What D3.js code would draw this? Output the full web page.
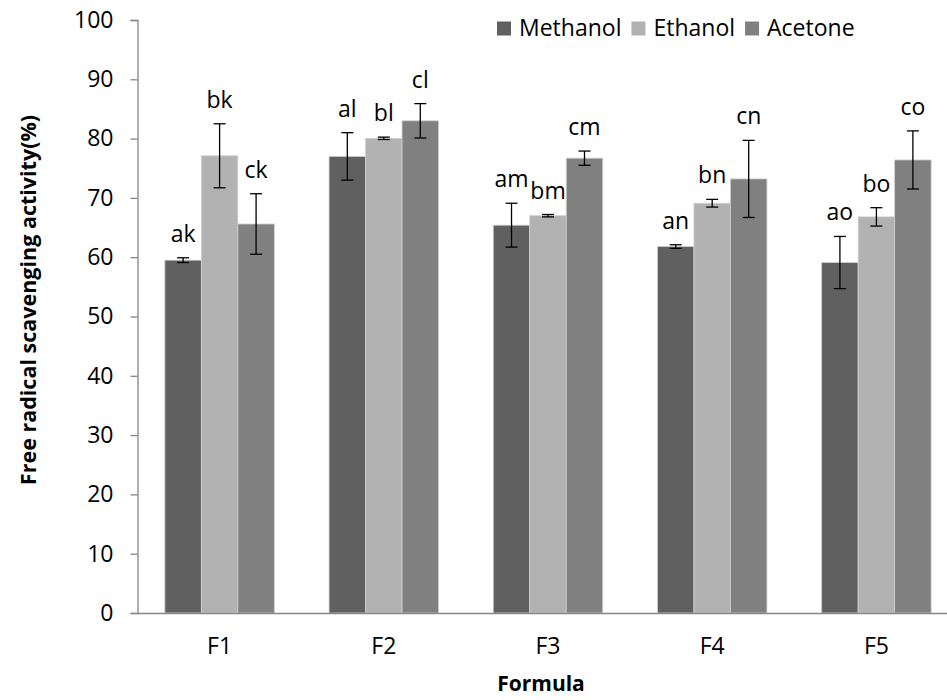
<!DOCTYPE html>
<html><head><meta charset="utf-8">
<script src="https://cdn.jsdelivr.net/npm/d3@7/dist/d3.min.js"></script>
<style>body{margin:0;background:#fff}svg{display:block}text{font-family:"Open Sans",sans-serif}</style>
</head><body>
<svg id="c" width="947" height="700"></svg>
<script>
const categories = ["F1","F2","F3","F4","F5"];
const seriesNames = ["Methanol","Ethanol","Acetone"];
const methanol = [59.5, 77.0, 65.4, 61.8, 59.1];
const ethanol  = [77.1, 80.05, 67.0, 69.1, 66.8];
const acetone  = [65.6, 83.0, 76.7, 73.2, 76.4];
const methanolErr = [0.4, 4.0, 3.7, 0.3, 4.4];
const ethanolErr  = [5.4, 0.2, 0.2, 0.65, 1.55];
const acetoneErr  = [5.1, 2.9, 1.2, 6.5, 4.9];
const methanolLbl = ["ak","al","am","an","ao"];
const ethanolLbl  = ["bk","bl","bm","bn","bo"];
const acetoneLbl  = ["ck","cl","cm","cn","co"];
const yTicks = [0,10,20,30,40,50,60,70,80,90,100];
const colors = ["#606060","#b2b2b2","#808080"];

(function(){
const series = [
  {name: seriesNames[0], values: methanol, err: methanolErr, lbl: methanolLbl},
  {name: seriesNames[1], values: ethanol,  err: ethanolErr,  lbl: ethanolLbl},
  {name: seriesNames[2], values: acetone,  err: acetoneErr,  lbl: acetoneLbl}
];

const svg = d3.select("#c");
const pl = 137.5, pr = 958.5, pt = 20, pb = 613;
const x0 = d3.scaleBand().domain(categories).range([pl, pr]).paddingInner(1.5/4.5).paddingOuter(0.75/4.5);
const x1 = d3.scaleBand().domain(seriesNames).range([0, x0.bandwidth()]);
const y = d3.scaleLinear().domain([0,100]).range([pb, pt]);

const ya = svg.append("g").attr("transform", `translate(${pl},0)`)
  .call(d3.axisLeft(y).tickValues(yTicks).tickSize(7).tickPadding(17));
ya.select(".domain").attr("stroke","#868686").attr("stroke-width",1.3);
ya.selectAll(".tick line").attr("stroke","#868686").attr("stroke-width",1.3);
ya.selectAll(".tick text").attr("font-size",23).attr("fill","#000").attr("font-family","Open Sans");

const groups = svg.append("g").selectAll("g").data(series).join("g");
groups.each(function(s, si){
  const g = d3.select(this);
  categories.forEach((c, ci) => {
    const v = s.values[ci];
    const bx = x0(c) + x1(s.name);
    g.append("rect").attr("x", bx).attr("y", y(v)).attr("width", x1.bandwidth()).attr("height", y(0)-y(v))
      .attr("fill", colors[si]).attr("stroke","#d0d0d0").attr("stroke-width",0.8);
  });
});

const xa = svg.append("g").attr("transform", `translate(0,${pb})`)
  .call(d3.axisBottom(x0).tickSize(0).tickPadding(25));
xa.select(".domain").attr("stroke","#868686").attr("stroke-width",1.3);
xa.selectAll(".tick text").attr("font-size",23).attr("fill","#000").attr("font-family","Open Sans");

const eg = svg.append("g");
series.forEach((s, si) => {
  categories.forEach((c, ci) => {
    const cx = x0(c) + x1(s.name) + x1.bandwidth()/2;
    const v = s.values[ci], e = s.err[ci];
    const yt = y(v+e), yb = y(v-e);
    eg.append("line").attr("x1",cx).attr("x2",cx).attr("y1",yt).attr("y2",yb).attr("stroke","#000").attr("stroke-width",1.3);
    eg.append("line").attr("x1",cx-6).attr("x2",cx+6).attr("y1",yt).attr("y2",yt).attr("stroke","#000").attr("stroke-width",1.3);
    eg.append("line").attr("x1",cx-6).attr("x2",cx+6).attr("y1",yb).attr("y2",yb).attr("stroke","#000").attr("stroke-width",1.3);
    eg.append("text").attr("x",cx).attr("y",yt-16).attr("text-anchor","middle")
      .attr("font-size",23).attr("fill","#000").text(s.lbl[ci]);
  });
});

svg.append("text").attr("x",541).attr("y",691).attr("text-anchor","middle")
  .attr("font-size",21).attr("font-weight","bold").text("Formula");
svg.append("text").attr("transform","translate(36,300) rotate(-90)").attr("text-anchor","middle")
  .attr("font-size",21.5).attr("font-weight","bold").text("Free radical scavenging activity(%)");

const lg = svg.append("g");
let lx = 497;
series.forEach((s, si) => {
  lg.append("rect").attr("x",lx).attr("y",21.5).attr("width",14).attr("height",14).attr("fill",colors[si]);
  const t = lg.append("text").attr("x",lx+22).attr("y",36).attr("font-size",23).attr("fill","#000").text(s.name);
  lx += 22 + t.node().getComputedTextLength() + 10;
});
})();
</script>
</body></html>
